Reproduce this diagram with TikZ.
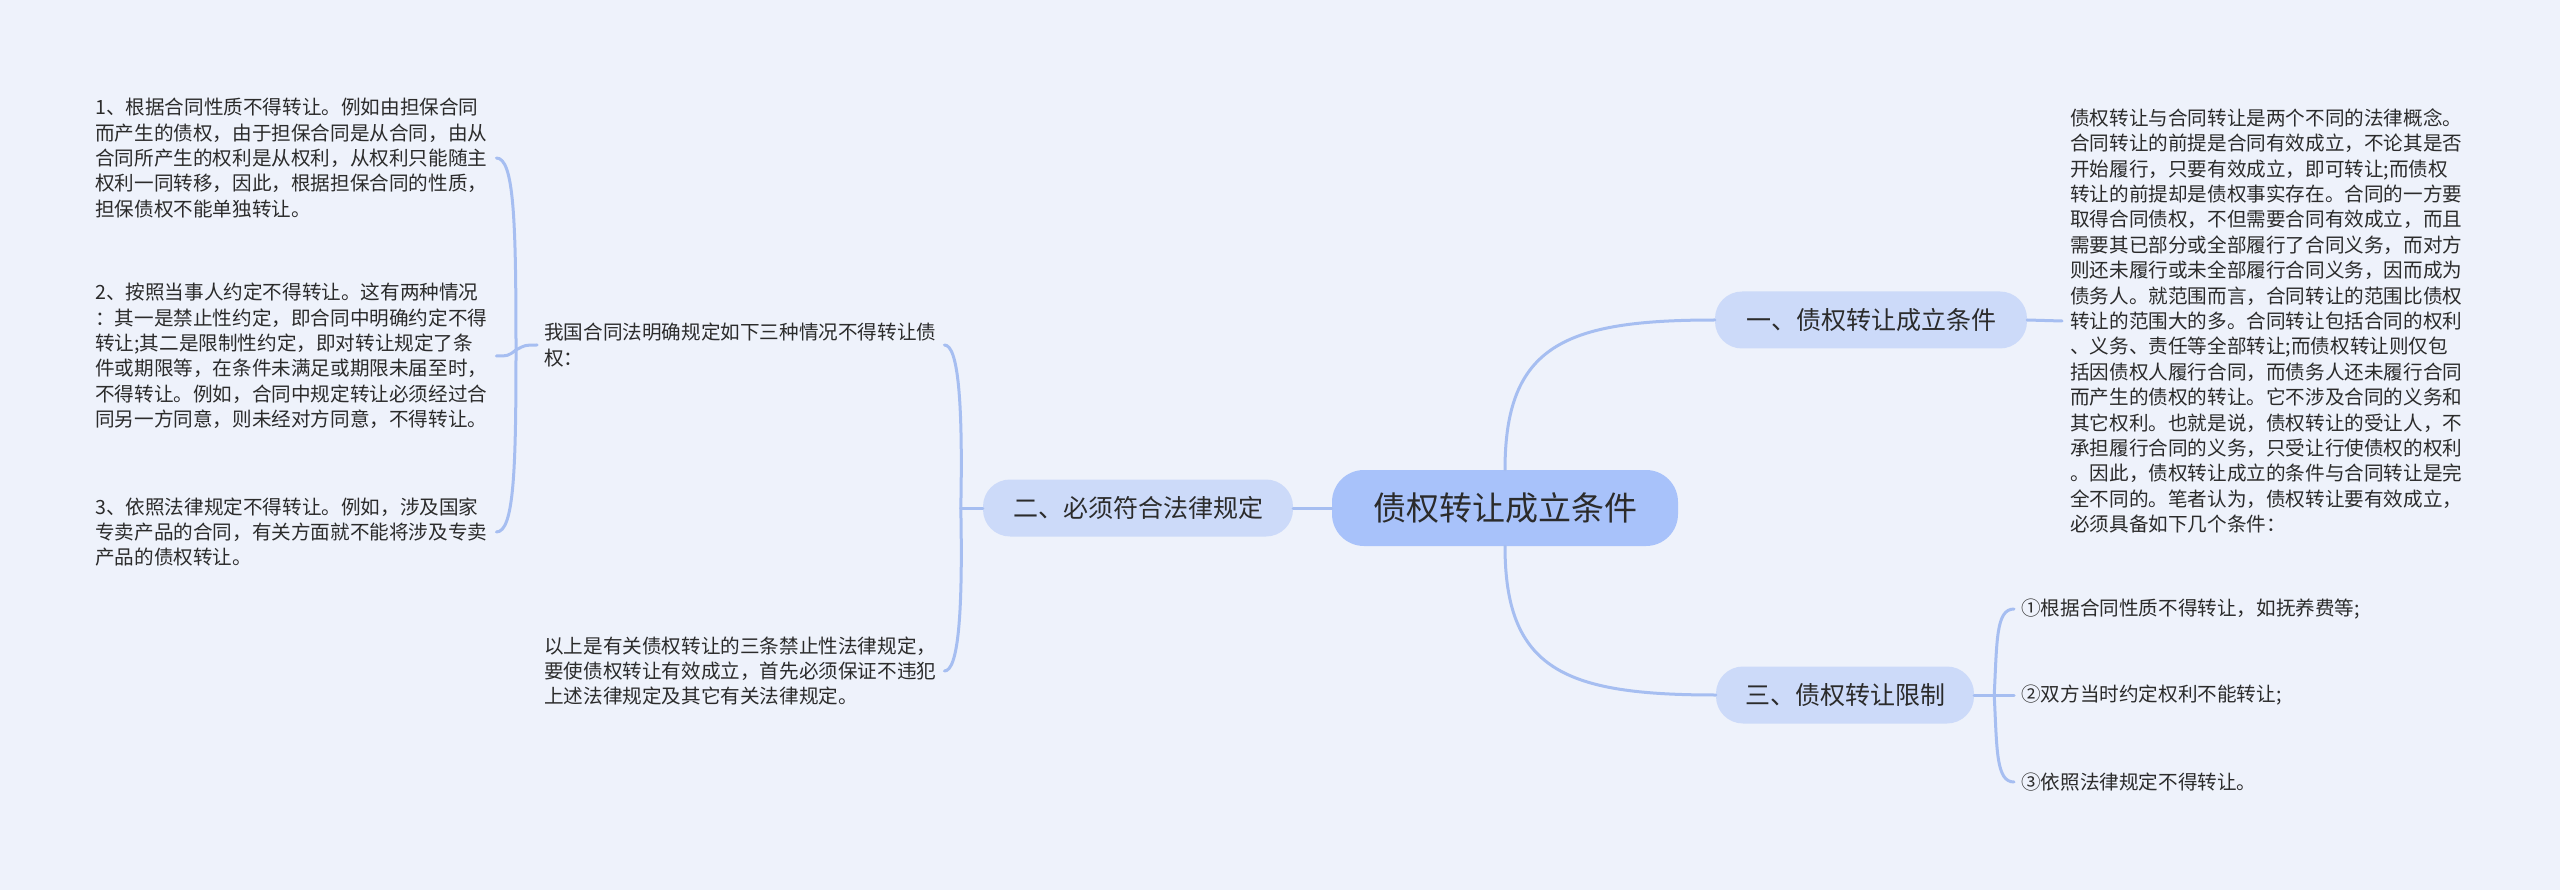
\documentclass[tikz,border=0pt]{standalone}
\usepackage{fontspec}
\setmainfont{Noto Sans CJK SC}
\definecolor{bgc}{HTML}{EEF2FB}
\definecolor{rootc}{HTML}{A8C2FA}
\definecolor{branchc}{HTML}{CCDAF9}
\definecolor{linec}{HTML}{A6BEF1}
\definecolor{textc}{HTML}{2B2B2B}
\tikzset{
  conn/.style={draw=linec, line width=3pt, line cap=round},
  rootbox/.style={fill=rootc, rounded corners=32pt, minimum width=346pt, minimum height=76pt, inner sep=0pt, font=\fontsize{33}{40}\selectfont, text=textc},
  branchbox/.style={fill=branchc, rounded corners=27pt, minimum height=57pt, inner sep=0pt, font=\fontsize{25}{30}\selectfont, text=textc},
  leaf/.style={inner sep=0pt, align=left, anchor=west, font=\fontsize{19.6}{25.4}\selectfont, text=textc},
}
\begin{document}
\begin{tikzpicture}[x=1pt,y=1pt]
\fill[bgc] (0,0) rectangle (2560,-890);
\useasboundingbox (0,0) rectangle (2560,-890);

% main nodes
\node[rootbox] (root) at (1505,-508) {债权转让成立条件};
\node[branchbox, minimum width=312pt] (b1) at (1871,-320) {一、债权转让成立条件};
\node[branchbox, minimum width=310pt] (b2) at (1138,-508) {二、必须符合法律规定};
\node[branchbox, minimum width=258pt] (b3) at (1845,-695) {三、债权转让限制};

% right texts
\node[leaf] (t1) at (2070,-321) {债权转让与合同转让是两个不同的法律概念。\\合同转让的前提是合同有效成立，不论其是否\\开始履行，只要有效成立，即可转让;而债权\\转让的前提却是债权事实存在。合同的一方要\\取得合同债权，不但需要合同有效成立，而且\\需要其已部分或全部履行了合同义务，而对方\\则还未履行或未全部履行合同义务，因而成为\\债务人。就范围而言，合同转让的范围比债权\\转让的范围大的多。合同转让包括合同的权利\\、义务、责任等全部转让;而债权转让则仅包\\括因债权人履行合同，而债务人还未履行合同\\而产生的债权的转让。它不涉及合同的义务和\\其它权利。也就是说，债权转让的受让人，不\\承担履行合同的义务，只受让行使债权的权利\\。因此，债权转让成立的条件与合同转让是完\\全不同的。笔者认为，债权转让要有效成立，\\必须具备如下几个条件：};

\node[leaf] (l1) at (2021,-609) {①根据合同性质不得转让，如抚养费等;};
\node[leaf] (l2) at (2021,-695) {②双方当时约定权利不能转让;};
\node[leaf] (l3) at (2021,-782) {③依照法律规定不得转让。};

% left texts
\node[leaf] (c1) at (544,-345) {我国合同法明确规定如下三种情况不得转让债\\权：};
\node[leaf] (c2) at (544,-671) {以上是有关债权转让的三条禁止性法律规定，\\要使债权转让有效成立，首先必须保证不违犯\\上述法律规定及其它有关法律规定。};

\node[leaf] (a1) at (95,-158) {1、根据合同性质不得转让。例如由担保合同\\而产生的债权，由于担保合同是从合同，由从\\合同所产生的权利是从权利，从权利只能随主\\权利一同转移，因此，根据担保合同的性质，\\担保债权不能单独转让。};
\node[leaf] (a2) at (95,-356) {2、按照当事人约定不得转让。这有两种情况\\：其一是禁止性约定，即合同中明确约定不得\\转让;其二是限制性约定，即对转让规定了条\\件或期限等，在条件未满足或期限未届至时，\\不得转让。例如，合同中规定转让必须经过合\\同另一方同意，则未经对方同意，不得转让。};
\node[leaf] (a3) at (95,-532) {3、依照法律规定不得转让。例如，涉及国家\\专卖产品的合同，有关方面就不能将涉及专卖\\产品的债权转让。};

% connectors from root
\draw[conn] (root.west) -- (b2.east);
\draw[conn] (root.north) .. controls (1505,-345) and (1565,-320) .. (b1.west);
\draw[conn] (root.south) .. controls (1505,-670) and (1565,-695) .. (b3.west);

% branch 1
\draw[conn] (b1.east) -- ([xshift=-8pt]t1.west);

% branch 3
\coordinate (j3) at ([xshift=20pt]b3.east);
\draw[conn] (b3.east) -- ([xshift=-7pt]l2.west);
\draw[conn] (j3) .. controls (1997,-640) and (1996,-609) .. ([xshift=-7pt]l1.west);
\draw[conn] (j3) .. controls (1997,-750) and (1996,-782) .. ([xshift=-7pt]l3.west);

% branch 2
\coordinate (j2) at ([xshift=-22pt]b2.west);
\draw[conn] (b2.west) -- (j2);
\draw[conn] (j2) .. controls (963,-400) and (958,-345) .. ([xshift=8pt]c1.east);
\draw[conn] (j2) .. controls (963,-616) and (958,-671) .. ([xshift=8pt]c2.east);

% c1 children
\coordinate (j1) at (516,-350);
\draw[conn] ([xshift=-7pt]c1.west) .. controls (525,-345) .. (j1);
\draw[conn] (j1) .. controls (516,-220) and (514,-158) .. ([xshift=9pt]a1.east);
\draw[conn] (j1) .. controls (508,-356) .. ([xshift=9pt]a2.east);
\draw[conn] (j1) .. controls (516,-470) and (514,-532) .. ([xshift=9pt]a3.east);
\end{tikzpicture}
\end{document}
